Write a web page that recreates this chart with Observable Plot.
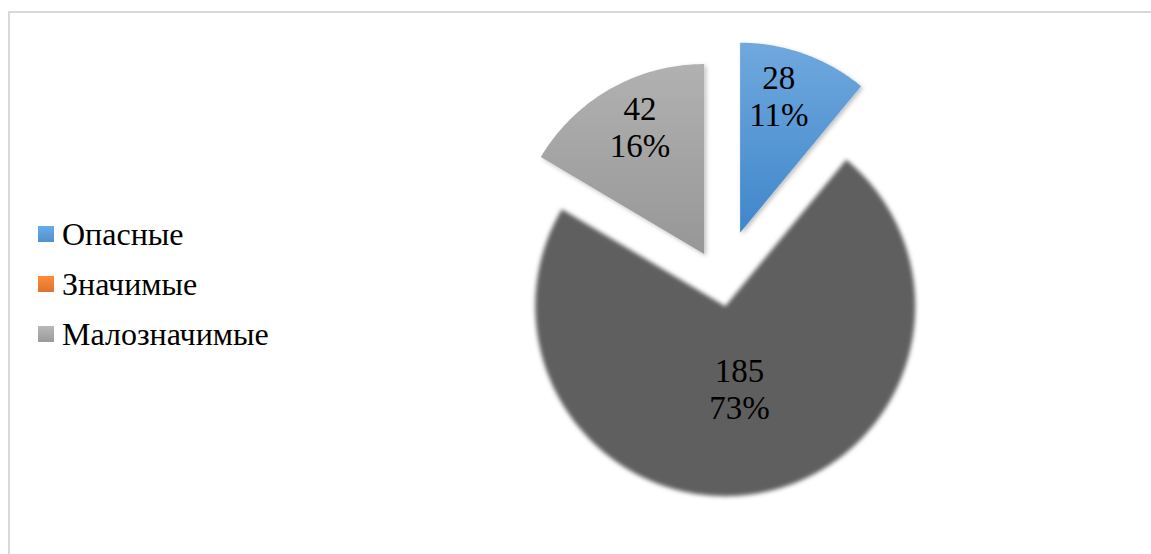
<!DOCTYPE html>
<html>
<head>
<meta charset="utf-8">
<script src="https://cdn.jsdelivr.net/npm/d3@7"></script>
<script src="https://cdn.jsdelivr.net/npm/@observablehq/plot@0.6"></script>
<style>
  html, body { margin: 0; padding: 0; background: #fff; }
  #wrap { position: relative; width: 1151px; height: 554px; overflow: hidden; }
  #frame { position: absolute; left: 8px; top: 11px; width: 1200px; height: 600px; border: 2px solid #d9d9d9; box-sizing: border-box; }
  #chart { position: absolute; left: 0; top: 0; }
  #legend { position: absolute; left: 38px; top: 209px; font-family: "Liberation Serif", "DejaVu Serif", serif; font-size: 32px; color: #000; }
  #legend .row { display: flex; align-items: center; height: 50px; }
  #legend .sw { width: 16px; height: 16px; margin-right: 8px; }
</style>
</head>
<body>
<div id="wrap">
  <div id="frame"></div>
  <div id="chart"></div>
  <div id="legend"></div>
</div>
<script>
// ---- data ----
const categories = ["Опасные", "Значимые", "Малозначимые"];
const legendColors = ["#5b9bd5", "#ed7d31", "#a5a5a5"];
// slices as drawn (clockwise from 12 o'clock)
const sliceLabels = ["Опасные", "Значимые", "Малозначимые"];
const sliceValues = [28, 185, 42];
const slicePercents = ["11%", "73%", "16%"];

// ---- layout constants ----
const W = 1151, H = 554;
const R = 190;            // px radius
const CX = 721, CY = 284; // px center of unexploded pie
const explodePx = [55, 22, 35];
const gradTop = ["#70a8de", "#5f5f5f", "#b1b1b1"];
const gradBot = ["#3f87ca", "#5f5f5f", "#979797"];
const FONT = "'Liberation Serif', 'DejaVu Serif', serif";

const pie = d3.pie().sort(null).startAngle(0).endAngle(2 * Math.PI);
const arcs = pie(sliceValues);

// build polygons in radius units (y downward)
const polys = [];
const labels = [];
arcs.forEach((a, i) => {
  const mid = (a.startAngle + a.endAngle) / 2;
  const off = explodePx[i] / R;
  const ox = off * Math.sin(mid), oy = -off * Math.cos(mid);
  polys.push({i, x: ox, y: oy});
  const n = Math.max(4, Math.ceil((a.endAngle - a.startAngle) / (Math.PI / 360)));
  for (let k = 0; k <= n; k++) {
    const t = a.startAngle + (a.endAngle - a.startAngle) * k / n;
    polys.push({i, x: ox + Math.sin(t), y: oy - Math.cos(t)});
  }
  const big = (a.endAngle - a.startAngle) > Math.PI;
  const lr = big ? 0.44 : 0.75;
  const lmid = big ? mid : mid - (i === 0 ? 0.07 : -0.05);
  labels.push({
    x: ox + lr * Math.sin(lmid),
    y: oy - lr * Math.cos(lmid),
    text: sliceValues[i] + "\n" + slicePercents[i]
  });
});

const defsMark = () => {
  const defs = d3.create("svg:defs");
  sliceValues.forEach((v, i) => {
    const g = defs.append("linearGradient").attr("id", "grad" + i)
      .attr("x1", 0).attr("y1", 0).attr("x2", 0).attr("y2", 1);
    g.append("stop").attr("offset", "0%").attr("stop-color", gradTop[i]);
    g.append("stop").attr("offset", "100%").attr("stop-color", gradBot[i]);
  });
  const f = defs.append("filter").attr("id", "soft").attr("x", "-10%").attr("y", "-10%").attr("width", "120%").attr("height", "120%");
  f.append("feGaussianBlur").attr("stdDeviation", 2);
  const s = defs.append("filter").attr("id", "shadow").attr("x", "-10%").attr("y", "-10%").attr("width", "130%").attr("height", "130%");
  s.append("feDropShadow").attr("dx", 2).attr("dy", 2).attr("stdDeviation", 2).attr("flood-color", "#000").attr("flood-opacity", 0.25);
  return defs.node();
};

const sliceMarks = sliceValues.map((v, i) =>
  Plot.line(polys.filter(d => d.i === i), {
    x: "x", y: "y",
    curve: "linear-closed",
    fill: `url(#grad${i})`,
    stroke: "none",
    title: () => sliceLabels[i]
  })
);

const plot = Plot.plot({
  width: W,
  height: H,
  margin: 0,
  x: {domain: [-CX / R, (W - CX) / R], range: [0, W], axis: null},
  y: {domain: [-CY / R, (H - CY) / R], range: [0, H], axis: null},
  style: {background: "transparent", overflow: "visible", fontFamily: FONT},
  marks: [
    defsMark,
    ...sliceMarks,
    Plot.text(labels, {
      x: "x", y: "y", text: "text",
      fontSize: 33,
      fontFamily: FONT,
      fill: "#000",
      lineHeight: 1.12,
      textAnchor: "middle"
    })
  ]
});

// soften edges like the original
const groups = d3.select(plot).selectAll("g[aria-label='line']").nodes();
groups.forEach((g, i) => {
  d3.select(g).attr("filter", i === 1 ? "url(#soft)" : "url(#shadow)");
});

document.getElementById("chart").appendChild(plot);

// legend
const legend = d3.select("#legend");
categories.forEach((c, i) => {
  const row = legend.append("div").attr("class", "row");
  row.append("div").attr("class", "sw").style("background", `linear-gradient(${d3.color(legendColors[i]).brighter(0.3)}, ${d3.color(legendColors[i]).darker(0.2)})`);
  row.append("span").text(c);
});
</script>
</body>
</html>
